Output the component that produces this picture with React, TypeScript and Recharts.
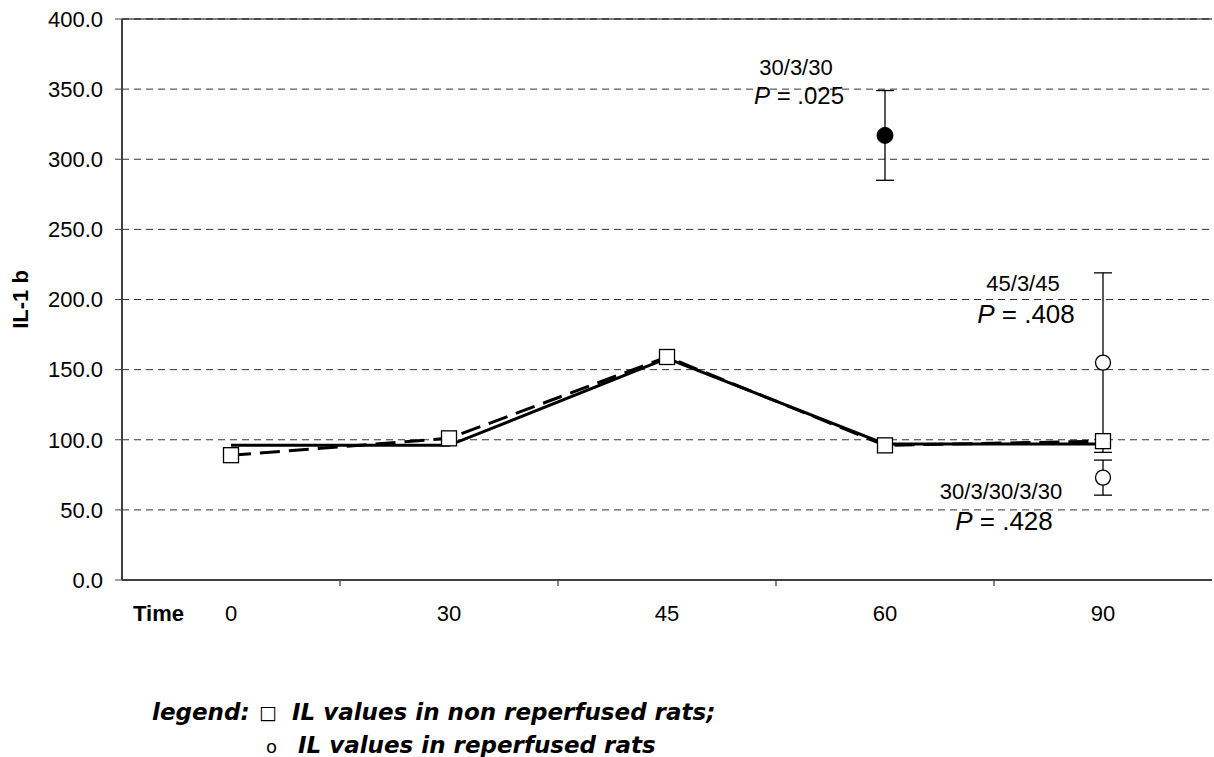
import React from "react";
import {
  ComposedChart,
  Line,
  XAxis,
  YAxis,
  CartesianGrid,
  ErrorBar,
  ReferenceDot,
  ReferenceLine,
} from "recharts";

const times = ["0", "30", "45", "60", "90"];
const nonReperfusedSolid = [96, 96, 158, 97, 97];
const nonReperfusedDashed = [89, 101, 159, 96, 99];
const reperfusedFilled = [null, null, null, 317, null];
const reperfusedFilledErr = [null, null, null, 32, null];
const reperfusedHigh = [null, null, null, null, 155];
const reperfusedHighErr = [null, null, null, null, 64];
const reperfusedLow = [null, null, null, null, 73];
const reperfusedLowErr = [null, null, null, null, 12.5];
const yTicks = [0, 50, 100, 150, 200, 250, 300, 350, 400];

const protocols = ["30/3/30", "45/3/45", "30/3/30/3/30"];
const pValues = [".025", ".408", ".428"];
const annotationTimes = ["60", "90", "90"];
const annotationLevels = [360, 206, 58];

const data = times.map((t, i) => ({
  time: t,
  solid: nonReperfusedSolid[i],
  dashed: nonReperfusedDashed[i],
  filled: reperfusedFilled[i],
  filledErr: reperfusedFilledErr[i],
  high: reperfusedHigh[i],
  highErr: reperfusedHighErr[i],
  low: reperfusedLow[i],
  lowErr: reperfusedLowErr[i],
}));

const FONT = "'Liberation Sans', Arial, sans-serif";
const LEGEND_FONT = "'DejaVu Sans', Verdana, sans-serif";

// half a category band, so tick marks sit between the labels
const HALF_BAND = 109;

// label offsets relative to the anchor category
const annoStyle = [
  { dx: -89, pdx: -86, pdy: 29, size: 22, psize: 24 },
  { dx: -80, pdx: -77, pdy: 32, size: 22, psize: 26 },
  { dx: -102, pdx: -99, pdy: 31, size: 22, psize: 26 },
];

function SquareDot(props: any) {
  const { cx, cy } = props;
  if (cx == null || cy == null) return null;
  return (
    <rect
      x={cx - 7.5}
      y={cy - 7.5}
      width={15}
      height={15}
      fill="#fff"
      stroke="#000"
      strokeWidth={1.3}
    />
  );
}

function TimeTick(props: any) {
  const { x, y, payload, index } = props;
  return (
    <g>
      <text
        x={x}
        y={y}
        dy="0.71em"
        textAnchor="middle"
        fontSize={22}
        fontFamily={FONT}
        fill="#000"
      >
        {payload.value}
      </text>
      {index > 0 && (
        <line
          x1={x - HALF_BAND}
          x2={x - HALF_BAND}
          y1={y - 25}
          y2={y - 19}
          stroke="#444"
          strokeWidth={1.3}
        />
      )}
    </g>
  );
}

function AnnoLabel(props: any) {
  const { viewBox, idx } = props;
  if (!viewBox) return null;
  const s = annoStyle[idx];
  const x = viewBox.x;
  const y = viewBox.y;
  return (
    <g fontFamily={FONT} fill="#000">
      <text x={x + s.dx} y={y} textAnchor="middle" fontSize={s.size}>
        {protocols[idx]}
      </text>
      <text x={x + s.pdx} y={y + s.pdy} textAnchor="middle" fontSize={s.psize}>
        <tspan fontStyle="italic">P</tspan> = {pValues[idx]}
      </text>
    </g>
  );
}

export default function App() {
  return (
    <div
      style={{
        position: "absolute",
        left: 0,
        top: 0,
        width: 1214,
        height: 757,
        background: "#fff",
      }}
    >
      <ComposedChart
        width={1214}
        height={757}
        data={data}
        margin={{ top: 19, right: 2, left: 0, bottom: 127 }}
      >
        <CartesianGrid
          vertical={false}
          stroke="#333"
          strokeDasharray="7 5"
        />
        <XAxis
          dataKey="time"
          height={50}
          padding={{ left: HALF_BAND, right: HALF_BAND }}
          tickSize={6}
          tickMargin={19}
          tickLine={false}
          tick={<TimeTick />}
          axisLine={{ stroke: "#404040", strokeWidth: 2 }}
          label={{
            content: (p: any) => (
              <text
                x={p.viewBox.x + 11}
                y={p.viewBox.y + 41}
                fontSize={22}
                fontWeight="bold"
                fontFamily={FONT}
                fill="#000"
              >
                Time
              </text>
            ),
          }}
        />
        <YAxis
          domain={[0, 400]}
          ticks={yTicks}
          width={122}
          tickSize={7}
          tickMargin={12}
          tickFormatter={(v: number) => v.toFixed(1)}
          tick={{ fontSize: 22, fill: "#000", fontFamily: FONT }}
          tickLine={{ stroke: "#444" }}
          axisLine={{ stroke: "#404040", strokeWidth: 2 }}
          label={{
            content: (p: any) => {
              const cy = p.viewBox.y + p.viewBox.height / 2;
              return (
                <text
                  x={20}
                  y={cy}
                  transform={`rotate(-90, 20, ${cy})`}
                  textAnchor="middle"
                  dominantBaseline="central"
                  fontSize={22}
                  fontWeight="bold"
                  fontFamily={FONT}
                  fill="#000"
                >
                  IL-1 b
                </text>
              );
            },
          }}
        />
        {/* right edge of the plot frame */}
        <YAxis
          yAxisId="frame"
          orientation="right"
          domain={[0, 400]}
          width={0}
          tick={false}
          tickLine={false}
          axisLine={{ stroke: "#444", strokeWidth: 1.5 }}
        />

        {/* top edge of the plot frame */}
        <ReferenceLine y={400} stroke="#000" strokeWidth={1.2} />

        <Line
          dataKey="solid"
          stroke="#000"
          strokeWidth={3}
          dot={false}
          activeDot={false}
          type="linear"
          isAnimationActive={false}
        />
        <Line
          dataKey="dashed"
          stroke="#000"
          strokeWidth={3}
          strokeDasharray="20 9"
          dot={<SquareDot />}
          activeDot={false}
          type="linear"
          isAnimationActive={false}
        />

        <Line
          dataKey="filled"
          stroke="none"
          dot={{ r: 8, fill: "#000", stroke: "#000", strokeWidth: 1 }}
          activeDot={false}
          isAnimationActive={false}
        >
          <ErrorBar dataKey="filledErr" width={9} stroke="#000" strokeWidth={1.3} />
        </Line>
        <Line
          dataKey="high"
          stroke="none"
          dot={{ r: 7.5, fill: "#fff", stroke: "#000", strokeWidth: 1.3 }}
          activeDot={false}
          isAnimationActive={false}
        >
          <ErrorBar dataKey="highErr" width={9} stroke="#000" strokeWidth={1.3} />
        </Line>
        <Line
          dataKey="low"
          stroke="none"
          dot={{ r: 7.5, fill: "#fff", stroke: "#000", strokeWidth: 1.3 }}
          activeDot={false}
          isAnimationActive={false}
        >
          <ErrorBar dataKey="lowErr" width={9} stroke="#000" strokeWidth={1.3} />
        </Line>

        {protocols.map((p, i) => (
          <ReferenceDot
            key={p}
            x={annotationTimes[i]}
            y={annotationLevels[i]}
            r={0}
            fill="none"
            stroke="none"
            label={<AnnoLabel idx={i} />}
          />
        ))}
      </ComposedChart>

      <svg
        width={1214}
        height={757}
        style={{ position: "absolute", left: 0, top: 0, pointerEvents: "none" }}
      >
        <g fontFamily={LEGEND_FONT} fill="#000">
          <text x={152} y={720} fontSize={23} fontWeight="bold" fontStyle="italic">
            legend:
          </text>
          <text x={259} y={719} fontSize={19} fontStyle="italic">
            □
          </text>
          <text x={292} y={720} fontSize={23} fontWeight="bold" fontStyle="italic">
            IL values in non reperfused rats;
          </text>
          <text x={266} y={753} fontSize={18}>
            o
          </text>
          <text x={298} y={753} fontSize={23} fontWeight="bold" fontStyle="italic">
            IL values in reperfused rats
          </text>
        </g>
      </svg>
    </div>
  );
}
